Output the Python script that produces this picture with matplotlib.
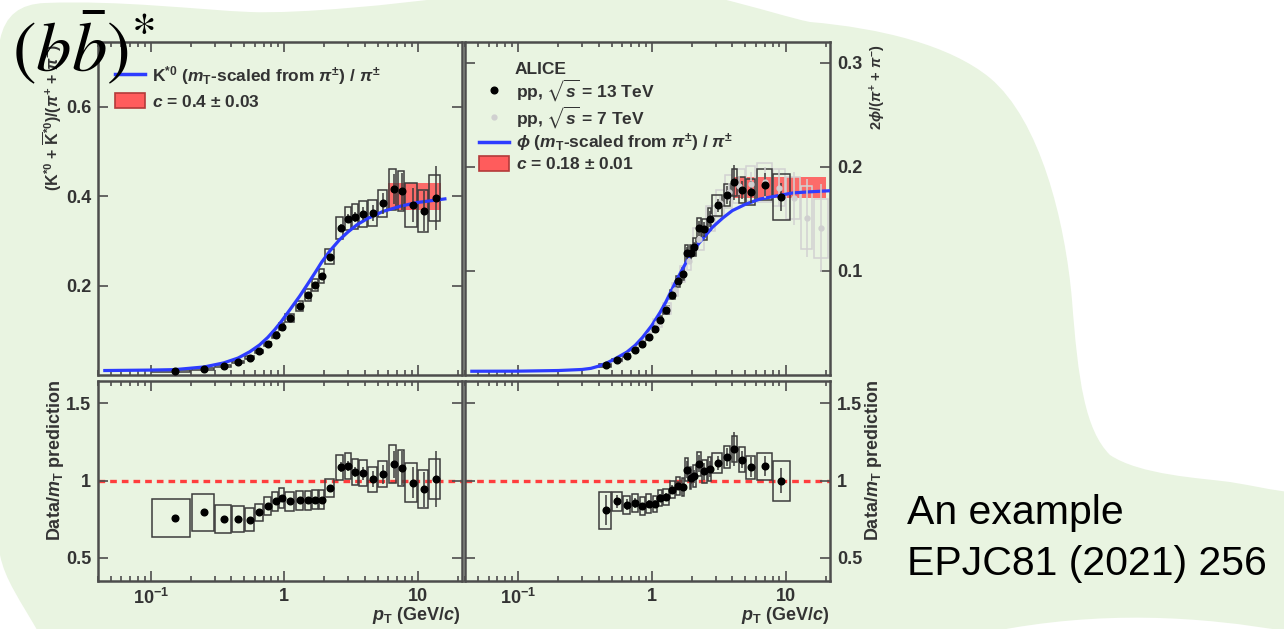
import numpy as np
import matplotlib
matplotlib.use("Agg")
import matplotlib.pyplot as plt
from matplotlib.path import Path
from matplotlib.patches import PathPatch, Patch
from matplotlib.lines import Line2D
from matplotlib.transforms import Affine2D
from matplotlib.ticker import LogLocator, NullFormatter

plt.rcParams['font.family'] = ['Liberation Sans', 'DejaVu Sans']
plt.rcParams['mathtext.fontset'] = 'custom'
plt.rcParams['mathtext.rm'] = 'Liberation Sans:bold'
plt.rcParams['mathtext.it'] = 'Liberation Sans:italic:bold'
plt.rcParams['mathtext.bf'] = 'Liberation Sans:bold'
plt.rcParams['mathtext.sf'] = 'Liberation Sans:bold'
plt.rcParams['mathtext.fallback'] = 'stixsans'

# ---- K*0 / pi, pp 13 TeV ----
k_pt = [0.15, 0.25, 0.35, 0.45, 0.55, 0.65, 0.75, 0.86, 0.96, 1.1, 1.3, 1.5, 1.7,
        1.9, 2.2, 2.65, 3.0, 3.4, 3.9, 4.6, 5.5, 6.7, 7.6, 9.2, 11.2, 13.8]
k_edges = [0.1, 0.2, 0.3, 0.4, 0.5, 0.6, 0.7, 0.8, 0.9, 1.0, 1.2, 1.4, 1.6, 1.8,
           2.0, 2.4, 2.8, 3.2, 3.6, 4.2, 5.0, 6.0, 7.0, 8.0, 10.0, 12.0, 15.0]
k_val = [0.009, 0.014, 0.020, 0.029, 0.039, 0.053, 0.070, 0.090, 0.108, 0.128,
         0.155, 0.179, 0.201, 0.221, 0.265, 0.329, 0.350, 0.354, 0.361, 0.362,
         0.384, 0.416, 0.411, 0.381, 0.367, 0.396]
k_ratio = [0.758, 0.794, 0.751, 0.751, 0.747, 0.794, 0.833, 0.866, 0.887, 0.866,
           0.872, 0.872, 0.877, 0.877, 0.952, 1.087, 1.095, 1.058, 1.047, 1.009,
           1.041, 1.106, 1.082, 0.987, 0.944, 1.009]
k_sys = [0.16, 0.15, 0.12, 0.11, 0.10, 0.07, 0.07, 0.07, 0.07, 0.07, 0.07, 0.07,
         0.07, 0.07, 0.06, 0.075, 0.075, 0.08, 0.08, 0.08, 0.08, 0.11, 0.11, 0.13,
         0.13, 0.13]
k_stat = [0.01, 0.01, 0.01, 0.01, 0.01, 0.01, 0.01, 0.01, 0.01, 0.01, 0.01, 0.01,
          0.015, 0.015, 0.02, 0.03, 0.03, 0.03, 0.04, 0.05, 0.06, 0.08, 0.10, 0.10,
          0.12, 0.18]
# mT-scaled prediction for K*0/pi
k_curve_pt = [0.045, 0.1, 0.15, 0.25, 0.35, 0.45, 0.55, 0.65, 0.75, 0.85, 0.95, 1.1,
              1.3, 1.5, 1.7, 1.9, 2.2, 2.6, 3.0, 3.5, 4.2, 5.5, 7.5, 10.0, 16.0]
k_curve = [0.010, 0.011, 0.012, 0.018, 0.027, 0.038, 0.052, 0.067, 0.084, 0.102,
           0.120, 0.146, 0.176, 0.204, 0.229, 0.252, 0.278, 0.303, 0.320, 0.336,
           0.350, 0.366, 0.378, 0.386, 0.394]
c_k, c_k_err = 0.4, 0.03
c_k_range = [6.0, 15.0]

# ---- phi / pi, pp 13 TeV ----
phi_pt = [0.45, 0.55, 0.65, 0.75, 0.85, 0.95, 1.05, 1.15, 1.27, 1.42, 1.57, 1.7,
          1.82, 1.95, 2.07, 2.25, 2.47, 2.7, 3.1, 3.65, 4.15, 4.7, 5.5, 7.0, 9.2]
phi_edges = [0.4, 0.5, 0.6, 0.7, 0.8, 0.9, 1.0, 1.1, 1.2, 1.35, 1.5, 1.65, 1.75,
             1.9, 2.0, 2.15, 2.35, 2.6, 2.8, 3.4, 3.9, 4.4, 5.0, 6.0, 8.0, 11.0]
phi_val = [0.0093, 0.0143, 0.0186, 0.0244, 0.030, 0.0366, 0.0443, 0.0532, 0.0626,
           0.0772, 0.090, 0.097, 0.117, 0.117, 0.123, 0.141, 0.140, 0.150, 0.163,
           0.173, 0.185, 0.178, 0.176, 0.183, 0.171]
phi_ratio = [0.807, 0.866, 0.844, 0.855, 0.833, 0.851, 0.851, 0.887, 0.894, 0.942,
             0.968, 0.959, 1.071, 1.017, 1.028, 1.110, 1.060, 1.076, 1.115, 1.154,
             1.206, 1.136, 1.086, 1.093, 1.000]
phi_sys = [0.15, 0.07, 0.07, 0.07, 0.07, 0.07, 0.06, 0.06, 0.06, 0.06, 0.06, 0.06,
           0.07, 0.07, 0.07, 0.07, 0.07, 0.07, 0.06, 0.06, 0.07, 0.07, 0.07, 0.08,
           0.13]
phi_stat = [0.12, 0.05, 0.04, 0.04, 0.03, 0.03, 0.03, 0.03, 0.03, 0.03, 0.03, 0.03,
            0.05, 0.04, 0.04, 0.05, 0.05, 0.05, 0.04, 0.05, 0.09, 0.05, 0.06, 0.06,
            0.08]

# ---- phi / pi, pp 7 TeV ----
phi7_pt = [0.45, 0.55, 0.65, 0.75, 0.85, 0.95, 1.1, 1.3, 1.5, 1.7, 1.9, 2.25, 2.75,
           3.25, 3.75, 4.5, 5.5, 7.0, 9.0, 11.5, 14.5, 18.5]
phi7_edges = [0.4, 0.5, 0.6, 0.7, 0.8, 0.9, 1.0, 1.2, 1.4, 1.6, 1.8, 2.0, 2.5, 3.0,
              3.5, 4.0, 5.0, 6.0, 8.0, 10.0, 13.0, 16.0, 21.0]
phi7_val = [0.0095, 0.014, 0.019, 0.025, 0.031, 0.038, 0.050, 0.064, 0.082, 0.097,
            0.110, 0.131, 0.150, 0.165, 0.176, 0.182, 0.184, 0.185, 0.180, 0.170,
            0.151, 0.141]
phi7_sys = [0.08, 0.08, 0.08, 0.08, 0.08, 0.08, 0.08, 0.08, 0.08, 0.08, 0.08, 0.08,
            0.08, 0.08, 0.09, 0.09, 0.09, 0.1, 0.1, 0.12, 0.2, 0.2]
phi7_stat = [0.02, 0.02, 0.02, 0.02, 0.02, 0.02, 0.02, 0.02, 0.02, 0.02, 0.02, 0.03,
             0.03, 0.04, 0.05, 0.05, 0.06, 0.08, 0.1, 0.15, 0.25, 0.3]
# mT-scaled prediction for phi/pi
phi_curve_pt = [0.045, 0.1, 0.2, 0.3, 0.35, 0.4, 0.45, 0.53, 0.65, 0.75, 0.85, 1.0,
                1.15, 1.27, 1.5, 1.65, 1.8, 2.0, 2.26, 2.84, 3.4, 4.0, 5.0, 6.4, 8.5,
                11.4, 15.0, 21.0]
phi_curve = [0.0036, 0.0037, 0.0043, 0.0053, 0.0064, 0.0085, 0.011, 0.0155, 0.022,
             0.0285, 0.036, 0.0477, 0.060, 0.070, 0.089, 0.099, 0.108, 0.118, 0.127,
             0.142, 0.151, 0.158, 0.164, 0.169, 0.172, 0.175, 0.176, 0.177]
c_phi, c_phi_err = 0.18, 0.01
c_phi_range = [4.0, 20.0]

x_ticks = [0.1, 1, 10]
x_ticklabels = [r'$10^{-1}$', '1', '10']

W, H = 1284, 629
green = '#e9f4e1'
blue = '#2d3cff'
red = '#ff5c5c'
frame = '#4d4d4d'
ink = '#333333'

fig = plt.figure(figsize=(W / 100, H / 100), dpi=100)
fig.patch.set_facecolor('white')

# slide background shape, outline given in pixels (y downwards)
to_fig = Affine2D().scale(1 / W, -1 / H).translate(0, 1) + fig.transFigure
verts = [(0, 40),
         (5, 15), (20, 4), (45, 3),
         (120, 0), (200, 10), (250, 12),
         (300, 14), (400, 4), (450, -3),
         (714, -3),
         (760, 8), (790, 18), (810, 22),
         (880, 28), (950, 45), (990, 78),
         (1040, 120), (1065, 220), (1072, 300),
         (1078, 380), (1085, 430), (1110, 455),
         (1140, 475), (1200, 478), (1230, 482),
         (1255, 486), (1270, 490), (1290, 492),
         (1290, 632),
         (1200, 616), (1100, 610), (990, 632),
         (40, 635),
         (20, 600), (5, 580), (0, 555),
         (0, 40)]
codes = ([Path.MOVETO] + [Path.CURVE4] * 9 + [Path.LINETO] + [Path.CURVE4] * 18
         + [Path.LINETO] + [Path.CURVE4] * 3 + [Path.LINETO] + [Path.CURVE4] * 3
         + [Path.CLOSEPOLY])
fig.patches.append(PathPatch(Path(verts, codes), facecolor=green, edgecolor='none',
                             transform=to_fig, zorder=-10))


def px_axes(x0, y0, x1, y1):
    return fig.add_axes([x0 / W, 1 - y1 / H, (x1 - x0) / W, (y1 - y0) / H])


ax_tl = px_axes(98, 42, 462, 375)
ax_tr = px_axes(465, 42, 830, 375)
ax_bl = px_axes(98, 381, 462, 581)
ax_br = px_axes(465, 381, 830, 581)

for ax in (ax_tl, ax_tr, ax_bl, ax_br):
    ax.set_facecolor('none')
    ax.set_xscale('log')
    ax.set_xlim(0.04, 21.5)
    ax.set_xticks(x_ticks, x_ticklabels, fontweight='bold')
    ax.xaxis.set_minor_locator(LogLocator(base=10, subs=np.arange(2, 10)))
    ax.xaxis.set_minor_formatter(NullFormatter())
    for s in ax.spines.values():
        s.set_color(frame)
        s.set_linewidth(1.8)
    ax.tick_params(which='both', direction='in', top=True, right=True,
                   color=frame, width=1.2, labelcolor=ink, labelsize=13)
    ax.tick_params(which='major', length=7, pad=5)
    ax.tick_params(which='minor', length=3.5)

for ax in (ax_tl, ax_tr):
    ax.tick_params(axis='x', labelbottom=False)
for ax in (ax_tr, ax_br):
    ax.tick_params(axis='y', labelleft=False, labelright=True)

ax_tl.set_ylim(0, 0.745)
ax_tl.set_yticks([0.2, 0.4, 0.6], ['0.2', '0.4', '0.6'], fontweight='bold')
ax_tr.set_ylim(0, 0.32)
ax_tr.set_yticks([0.1, 0.2, 0.3], ['0.1', '0.2', '0.3'], fontweight='bold')
for ax in (ax_bl, ax_br):
    ax.set_ylim(0.35, 1.645)
    ax.set_yticks([0.5, 1, 1.5], ['0.5', '1', '1.5'], fontweight='bold')


def draw_points(ax, pt, edges, val, sys, stat, color='k', box='#3c3c3c', ms=4.8):
    pt, edges, val = np.array(pt), np.array(edges), np.array(val)
    sys, stat = np.array(sys) * val, np.array(stat) * val
    lo, hi = edges[:-1] * 1.012, edges[1:] / 1.012
    ax.bar(lo, 2 * sys, width=hi - lo, bottom=val - sys, align='edge',
           fill=False, edgecolor=box, linewidth=1.1, zorder=3)
    ax.errorbar(pt, val, yerr=stat, fmt='o', ms=ms, color=color, ecolor=box,
                elinewidth=1.1, capsize=0, zorder=5)


# top left: K*0/pi
ax_tl.fill_between(c_k_range, c_k - c_k_err, c_k + c_k_err, color=red, alpha=0.9,
                   lw=0, zorder=2)
draw_points(ax_tl, k_pt, k_edges, k_val, k_sys, k_stat)
ax_tl.plot(k_curve_pt, k_curve, color=blue, lw=2.3, zorder=4)

# top right: phi/pi
ax_tr.fill_between(c_phi_range, c_phi - c_phi_err, c_phi + c_phi_err, color=red,
                   alpha=0.9, lw=0, zorder=2)
draw_points(ax_tr, phi7_pt, phi7_edges, phi7_val, phi7_sys, phi7_stat,
            color='#cfcfcf', box='#d2d2d2', ms=3.5)
draw_points(ax_tr, phi_pt, phi_edges, phi_val, phi_sys, phi_stat)
ax_tr.plot(phi_curve_pt, phi_curve, color=blue, lw=2.3, zorder=4)

# ratios to the mT-scaling prediction
for ax in (ax_bl, ax_br):
    ax.axhline(1, color='#ff3d3d', ls=(0, (2.0, 1.5)), lw=2.4, zorder=1)
draw_points(ax_bl, k_pt, k_edges, k_ratio, k_sys, k_stat)
draw_points(ax_br, phi_pt, phi_edges, phi_ratio, phi_sys, phi_stat)

# legends
band_patch = dict(facecolor=red, edgecolor='#b33a3a', linewidth=1.2)
leg_kw = dict(loc='upper left', frameon=False, prop=dict(weight='bold', size=12.5),
              handlelength=1.75, handleheight=0.9, handletextpad=0.4,
              borderaxespad=0, borderpad=0, labelcolor=ink)
ax_tl.legend([Line2D([], [], color=blue, lw=2.5), Patch(**band_patch)],
             [r'K$^{*0}$ ($m_{\rm T}$-scaled from $\pi^{\pm}$) / $\pi^{\pm}$',
              rf'$c$ = {c_k} $\pm$ {c_k_err}'],
             bbox_to_anchor=(0.047, 0.935), labelspacing=0.4, **leg_kw)

ax_tr.text(0.137, 0.918, 'ALICE', transform=ax_tr.transAxes, fontsize=12.5,
           fontweight='bold', color=ink, va='center')
ax_tr.legend([Line2D([], [], marker='o', ls='none', color='k', ms=4.8),
              Line2D([], [], marker='o', ls='none', color='#d0d0d0', ms=3.5),
              Line2D([], [], color=blue, lw=2.5), Patch(**band_patch)],
             [r'pp, $\sqrt{s}$ = 13 TeV', r'pp, $\sqrt{s}$ = 7 TeV',
              r'$\phi$ ($m_{\rm T}$-scaled from $\pi^{\pm}$) / $\pi^{\pm}$',
              rf'$c$ = {c_phi} $\pm$ {c_phi_err}'],
             bbox_to_anchor=(0.038, 0.895), labelspacing=0.1, **leg_kw)

# axis titles
lab = dict(rotation=90, ha='center', va='center', color=ink, fontweight='bold')
fig.text(53 / W, 1 - 117 / H, r'(K$^{*0}$ + $\overline{\rm K}^{*0}$)/($\pi^{+}$ + $\pi^{-}$)',
         fontsize=11.5, **lab)
fig.text(878 / W, 1 - 87 / H, r'2$\phi$/($\pi^{+}$ + $\pi^{-}$)', fontsize=10.5, **lab)
fig.text(55 / W, 1 - 460 / H, r'Data/$m_{\rm T}$ prediction', fontsize=13, **lab)
fig.text(873 / W, 1 - 460 / H, r'Data/$m_{\rm T}$ prediction', fontsize=13, **lab)
for xr in (461, 830):
    fig.text(xr / W, 1 - 616 / H, r'$p_{\rm T}$ (GeV/$c$)', fontsize=13,
             fontweight='bold', ha='right', va='center', color=ink)

# slide annotations
fig.text(12 / W, 1 - 9 / H, r'$\left(b\bar{b}\right)^{*}$', fontsize=51,
         math_fontfamily='stix', ha='left', va='top', color='black')
fig.text(907 / W, 1 - 524 / H, 'An example', fontsize=29.5,
         ha='left', va='baseline', color='black')
fig.text(907 / W, 1 - 575 / H, 'EPJC81 (2021) 256', fontsize=29.5,
         ha='left', va='baseline', color='black')

fig.savefig('out.png', dpi=100, facecolor=fig.get_facecolor())
